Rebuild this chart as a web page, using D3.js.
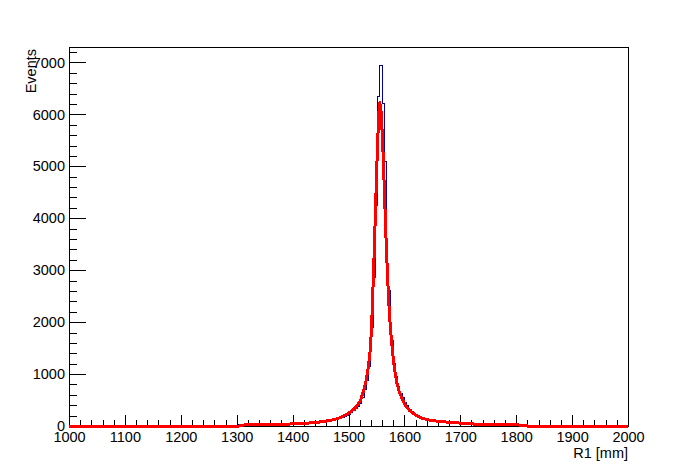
<!DOCTYPE html>
<html>
<head>
<meta charset="utf-8">
<script src="https://cdn.jsdelivr.net/npm/d3@7"></script>
<style>
  body { margin: 0; background: #fff; }
  text { font-family: "Liberation Sans", Arial, Helvetica, sans-serif; }
</style>
</head>
<body>
<script>
// Histogram: 4 mm bins, counts from 1300 mm onwards (zero elsewhere)
const histMin = 1000, histMax = 2000, binWidth = 4;
const firstFilled = 1300;
const counts = [
  12, 20, 16, 22, 18, 25, 19, 21, 27, 20,
  24, 28, 22, 30, 26, 33, 29, 27, 35, 31,
  38, 34, 40, 36, 42, 39, 45, 48, 44, 52,
  55, 50, 60, 58, 66, 70, 72, 80, 86, 92,
  98, 105, 112, 120, 126, 140, 150, 165, 178, 200,
  225, 255, 290, 330, 380, 440, 540, 700, 880, 1150,
  1900, 2850, 4250, 6350, 6950, 6200, 5100, 3100, 2600, 1650,
  1200, 950, 760, 620, 540, 450, 400, 320, 280, 240,
  210, 190, 165, 150, 138, 125, 118, 105, 100, 92,
  88, 82, 80, 74, 70, 72, 62, 66, 58, 55,
  52, 50, 46, 44, 40, 38, 37, 34, 33, 30,
  29, 28, 26, 25, 24, 24, 22, 21, 22, 20,
  19, 20, 18, 17, 18, 16, 15, 16, 14, 13
];

// Fit curve (red)
const fitX = [1000, 1305, 1306, 1340, 1370, 1400, 1420, 1440, 1460, 1475, 1485, 1495, 1505,
  1512, 1518, 1522, 1527, 1532, 1536, 1539, 1541, 1543, 1546, 1549, 1552, 1554.5, 1556,
  1558, 1561, 1564, 1567, 1570, 1573, 1576, 1579, 1582, 1586, 1591, 1597, 1602, 1610,
  1620, 1632, 1646, 1665, 1682, 1700, 1717, 1735, 1753, 1785, 1818, 1819, 2000];
const fitY = [0, 0, 18, 24, 30, 40, 50, 65, 95, 125, 160, 210, 280,
  350, 430, 510, 680, 900, 1180, 1480, 1850, 2400, 3350, 4400, 5450, 6050, 6230,
  6100, 5500, 4600, 3650, 2850, 2200, 1750, 1400, 1120, 850, 650, 500, 390, 290,
  210, 150, 110, 85, 70, 55, 42, 32, 26, 21, 18, 0, 0];

const xMajor = [1000, 1100, 1200, 1300, 1400, 1500, 1600, 1700, 1800, 1900, 2000];
const yMajor = [0, 1000, 2000, 3000, 4000, 5000, 6000, 7000];

const width = 698, height = 474;
const margin = {top: 47, right: 70, bottom: 48, left: 69};

const svg = d3.select("body").append("svg")
  .attr("width", width)
  .attr("height", height);

svg.append("rect").attr("width", width).attr("height", height).attr("fill", "#fff");

const yMaxVal = 1.05 * d3.max(counts);
const x = d3.scaleLinear().domain([histMin, histMax]).range([margin.left, width - margin.right]);
const y = d3.scaleLinear().domain([0, yMaxVal]).range([height - margin.bottom, margin.top]);

// full bin list
const nBins = (histMax - histMin) / binWidth;
const offset = (firstFilled - histMin) / binWidth;
const bins = d3.range(nBins).map(i => {
  const j = i - offset;
  return [histMin + i * binWidth, (j >= 0 && j < counts.length) ? counts[j] : 0];
});
bins.push([histMax, 0]);

// histogram outline
svg.append("path")
  .datum(bins)
  .attr("fill", "none")
  .attr("stroke", "#000099")
  .attr("stroke-width", 1)
  .attr("shape-rendering", "crispEdges")
  .attr("d", d3.line().x(d => x(d[0])).y(d => y(d[1])).curve(d3.curveStepAfter));

// axes
const fontSize = 14.5;
const plotH = height - margin.top - margin.bottom;
const plotW = width - margin.left - margin.right;

const xMinor = d3.range(histMin, histMax + 1, 20).filter(v => v % 100 !== 0);
const yMinor = d3.range(0, yMaxVal, 200).filter(v => v % 1000 !== 0);

const xAxisMinor = svg.append("g")
  .attr("transform", `translate(0,${height - margin.bottom})`)
  .call(d3.axisBottom(x).tickValues(xMinor).tickSize(-plotH * 0.015).tickFormat(""));
const xAxis = svg.append("g")
  .attr("transform", `translate(0,${height - margin.bottom})`)
  .call(d3.axisBottom(x).tickValues(xMajor).tickSize(-plotH * 0.03).tickPadding(5.5).tickFormat(d3.format("d")));

const yAxisMinor = svg.append("g")
  .attr("transform", `translate(${margin.left},0)`)
  .call(d3.axisLeft(y).tickValues(yMinor).tickSize(-plotW * 0.015).tickFormat(""));
const yAxis = svg.append("g")
  .attr("transform", `translate(${margin.left},0)`)
  .call(d3.axisLeft(y).tickValues(yMajor).tickSize(-plotW * 0.03).tickPadding(4).tickFormat(d3.format("d")));

[xAxisMinor, xAxis, yAxisMinor, yAxis].forEach(g => {
  g.select(".domain").remove();
  g.selectAll("line").attr("stroke", "#000").attr("shape-rendering", "crispEdges");
  g.selectAll("text")
    .attr("fill", "#000")
    .style("font-family", '"Liberation Sans", Arial, sans-serif')
    .style("font-size", fontSize + "px");
});

// frame
svg.append("rect")
  .attr("x", margin.left)
  .attr("y", margin.top)
  .attr("width", plotW)
  .attr("height", plotH)
  .attr("fill", "none")
  .attr("stroke", "#000")
  .attr("shape-rendering", "crispEdges");

// fit curve on top
svg.append("path")
  .datum(d3.zip(fitX, fitY))
  .attr("fill", "none")
  .attr("stroke", "#ff0000")
  .attr("stroke-width", 3)
  .attr("stroke-linejoin", "round")
  .attr("shape-rendering", "crispEdges")
  .attr("d", d3.line().x(d => x(d[0])).y(d => y(d[1])));

// axis titles
svg.append("text")
  .attr("x", width - margin.right)
  .attr("y", 458)
  .attr("text-anchor", "end")
  .style("font-size", fontSize + "px")
  .text("R1 [mm]");

svg.append("text")
  .attr("transform", `translate(36,${margin.top + 2}) rotate(-90)`)
  .attr("text-anchor", "end")
  .style("font-size", fontSize + "px")
  .text("Events");
</script>
</body>
</html>
